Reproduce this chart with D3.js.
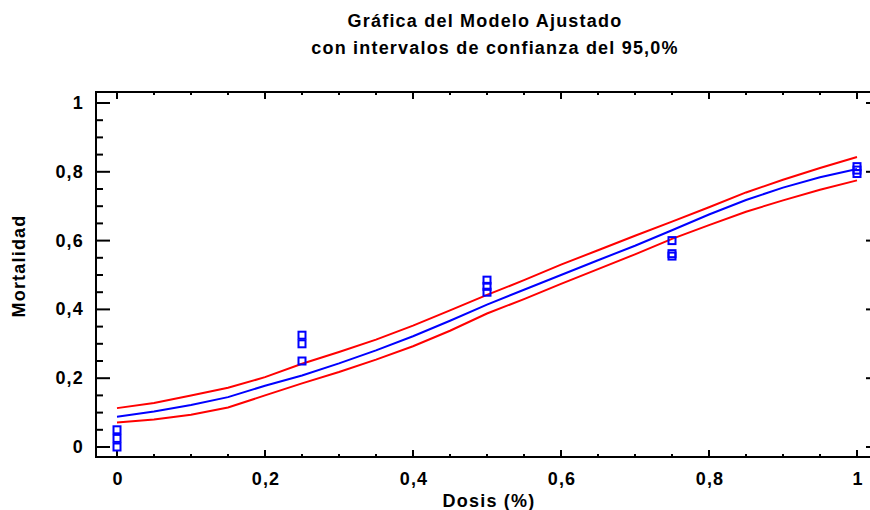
<!DOCTYPE html>
<meta charset="utf-8">
<script src="https://d3js.org/d3.v7.min.js"></script>
<style>
  body { margin: 0; background: #fff; }
  text { font-family: "Liberation Sans", Arial, sans-serif; font-weight: bold; fill: #000; font-size: 18px; letter-spacing: 1.2px; }
</style>
<body>
<div id="chart"></div>
<script>
  // observed points (dosis, mortalidad)
  var dosisObs = [0, 0, 0, 0.25, 0.25, 0.25, 0.5, 0.5, 0.5, 0.75, 0.75, 0.75, 1, 1, 1];
  var mortObs  = [0, 0.025, 0.05, 0.25, 0.3, 0.325, 0.45, 0.467, 0.485, 0.555, 0.562, 0.6, 0.795, 0.805, 0.815];

  // fitted model and 95% limits
  var dosisFit = [0, 0.05, 0.1, 0.15, 0.2, 0.25, 0.3, 0.35, 0.4, 0.45, 0.5, 0.55, 0.6, 0.65, 0.7, 0.75, 0.8, 0.85, 0.9, 0.95, 1];
  var ajuste   = [0.088, 0.103, 0.122, 0.145, 0.178, 0.208, 0.243, 0.281, 0.322, 0.367, 0.414, 0.457, 0.500, 0.543, 0.585, 0.630, 0.676, 0.718, 0.754, 0.784, 0.808];
  var limSup   = [0.113, 0.128, 0.150, 0.172, 0.203, 0.242, 0.276, 0.312, 0.353, 0.397, 0.442, 0.485, 0.530, 0.572, 0.614, 0.655, 0.697, 0.740, 0.777, 0.811, 0.843];
  var limInf   = [0.071, 0.080, 0.094, 0.115, 0.150, 0.185, 0.218, 0.254, 0.293, 0.338, 0.388, 0.430, 0.474, 0.517, 0.560, 0.605, 0.645, 0.684, 0.717, 0.748, 0.775];

  var xTicks = [0, 0.2, 0.4, 0.6, 0.8, 1];
  var yTicks = [0, 0.2, 0.4, 0.6, 0.8, 1];

  var W = 870, H = 510;
  // frame edges (right edge falls just outside the picture)
  var fLeft = 96, fRight = 880, fTop = 92, fBottom = 457;

  var svg = d3.select("#chart").append("svg")
      .attr("width", W).attr("height", H);

  var x = d3.scaleLinear().domain([0, 1]).range([117, 857]);
  var y = d3.scaleLinear().domain([0, 1]).range([447, 103]);

  var fmt = function(d) { return String(d).replace(".", ","); };
  var minor = d3.range(0, 21).map(function(i) { return i * 0.05; })
      .filter(function(v) { return Math.round(v * 100) % 20 != 0; });

  // frame lines
  var frame = svg.append("g").attr("stroke", "#000").attr("stroke-width", 2);
  frame.append("line").attr("x1", fLeft).attr("x2", fLeft).attr("y1", fTop - 1).attr("y2", fBottom + 1);
  frame.append("line").attr("x1", fLeft).attr("x2", fRight).attr("y1", fBottom).attr("y2", fBottom);
  frame.append("line").attr("x1", fLeft).attr("x2", fRight).attr("y1", fTop).attr("y2", fTop);
  frame.append("line").attr("x1", fRight).attr("x2", fRight).attr("y1", fTop).attr("y2", fBottom);

  // ticks, pointing inward
  function xTickLines(vals, len) {
    vals.forEach(function(v) {
      frame.append("line").attr("x1", x(v)).attr("x2", x(v)).attr("y1", fBottom).attr("y2", fBottom - len);
      frame.append("line").attr("x1", x(v)).attr("x2", x(v)).attr("y1", fTop).attr("y2", fTop + len);
    });
  }
  function yTickLines(vals, len) {
    vals.forEach(function(v) {
      frame.append("line").attr("y1", y(v)).attr("y2", y(v)).attr("x1", fLeft).attr("x2", fLeft + len);
      frame.append("line").attr("y1", y(v)).attr("y2", y(v)).attr("x1", fRight).attr("x2", fRight - len);
    });
  }
  xTickLines(xTicks, 7);
  xTickLines(minor, 3);
  yTickLines(yTicks, 14);
  yTickLines(minor, 7);

  // tick labels
  svg.selectAll(".xl").data(xTicks).enter().append("text")
      .attr("x", function(d) { return x(d) + 1; })
      .attr("y", 485)
      .attr("text-anchor", "middle")
      .text(fmt);
  svg.selectAll(".yl").data(yTicks).enter().append("text")
      .attr("x", 84)
      .attr("y", function(d) { return y(d) + 6; })
      .attr("text-anchor", "end")
      .text(fmt);

  // axis titles
  svg.append("text").attr("x", 489).attr("y", 507).attr("text-anchor", "middle")
      .text("Dosis (%)");
  svg.append("text").attr("transform", "translate(25,266) rotate(-90)").attr("text-anchor", "middle")
      .text("Mortalidad");

  // title
  svg.append("text").attr("x", 485).attr("y", 27).attr("text-anchor", "middle")
      .text("Gráfica del Modelo Ajustado");
  svg.append("text").attr("x", 495).attr("y", 54).attr("text-anchor", "middle")
      .text("con intervalos de confianza del 95,0%");

  // curves
  var line = d3.line().x(function(d) { return x(d[0]); }).y(function(d) { return y(d[1]); });
  [[limSup, "#ff0000"], [limInf, "#ff0000"], [ajuste, "#0000ff"]].forEach(function(s) {
    svg.append("path")
        .datum(dosisFit.map(function(d, i) { return [d, s[0][i]]; }))
        .attr("d", line)
        .attr("fill", "none")
        .attr("stroke", s[1])
        .attr("stroke-width", 2);
  });

  // observed squares
  svg.selectAll(".pt").data(dosisObs).enter().append("rect")
      .attr("x", function(d) { return x(d) - 3.5; })
      .attr("y", function(d, i) { return y(mortObs[i]) - 3.5; })
      .attr("width", 7).attr("height", 7)
      .attr("fill", "none")
      .attr("stroke", "#0000ff")
      .attr("stroke-width", 2);
</script>
</body>
